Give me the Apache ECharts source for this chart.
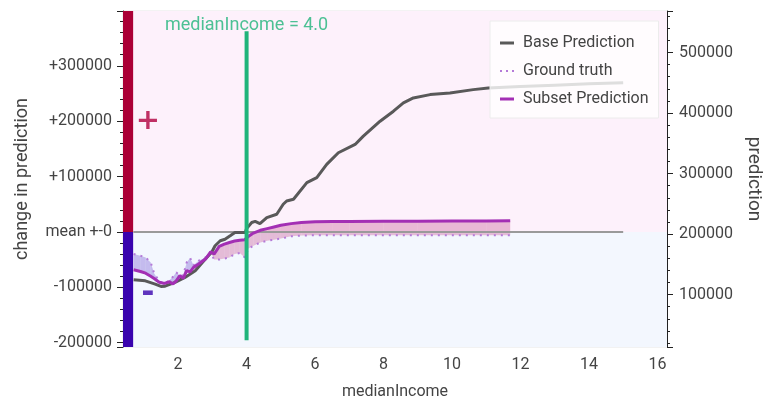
<!DOCTYPE html>
<html><head><meta charset="utf-8">
<script src="https://cdn.jsdelivr.net/npm/echarts@6/dist/echarts.min.js"></script>
<style>html,body{margin:0;padding:0;background:#fff}#c{width:777px;height:405px}</style>
</head><body><div id="c"></div>
<script>
// ---- data ----
const baseX = [0.70, 1.04, 1.33, 1.50, 1.62, 1.91, 2.20, 2.50, 2.79, 2.98, 3.08, 3.23, 3.37, 3.52, 3.66, 3.96, 4.00, 4.15, 4.25, 4.39, 4.59, 4.88, 5.07, 5.17, 5.37, 5.76, 6.05, 6.34, 6.68, 7.17, 7.41, 7.90, 8.29, 8.58, 8.87, 9.36, 9.94, 10.62, 11.06, 12.0, 13.0, 14.0, 15.0];
const baseY = [-86500, -88300, -94200, -98400, -98000, -91200, -82200, -70200, -49200, -36600, -25000, -16000, -13200, -7000, -1000, -1000, 6000, 17000, 19000, 15000, 25900, 32000, 50000, 55900, 59000, 89000, 98000, 122000, 143000, 158000, 173000, 200000, 218000, 233000, 242000, 248000, 251000, 257000, 260000, 262500, 265000, 267500, 269500];
const subsetX = [0.70, 0.9, 1.05, 1.2, 1.3, 1.45, 1.6, 1.75, 1.85, 1.95, 2.05, 2.15, 2.25, 2.35, 2.45, 2.6, 2.8, 2.95, 3.05, 3.2, 3.35, 3.5, 3.65, 3.8, 3.95, 4.05, 4.2, 4.4, 4.6, 4.8, 5.0, 5.3, 5.6, 6.0, 6.5, 7.0, 8.0, 9.0, 10.0, 11.0, 11.7];
const subsetY = [-68400, -71500, -74500, -80000, -84000, -91000, -93000, -90000, -94000, -88000, -79000, -84000, -70000, -72000, -64000, -58000, -49000, -36000, -40000, -26000, -22000, -19000, -16500, -15000, -14000, -8000, -2000, 3000, 6000, 9000, 12000, 15000, 17000, 18500, 18800, 19000, 19200, 19400, 19600, 19800, 20000];
const truthY = [-40000, -43000, -46000, -55000, -75000, -89000, -94000, -87000, -81000, -73000, -80000, -78000, -55000, -47000, -60000, -52000, -46000, -36000, -50000, -50000, -48000, -46000, -40000, -38000, -46000, -30000, -25000, -19000, -16000, -14000, -12000, -8000, -6500, -6000, -6000, -6000, -6000, -6000, -6000, -6000, -6000];
const meanX = [0.69, 15.0];
const meanY = [0, 0];
const markerX = 4.0;
const markerYRange = [-195500, 362300];
const markerText = 'medianIncome = 4.0';
const seriesNames = ['Base Prediction', 'Ground truth', 'Subset Prediction'];

// ---- axis extents ----
const X_MIN = 0.39, X_MAX = 16.28, STRIP_END = 0.686;
const Y_MIN = -207800, Y_MAX = 399000;
const R_MIN = 13400, R_MAX = 568600;

const zip = (xs, ys) => xs.map((x, i) => [x, ys[i]]);
// one item per segment between consecutive points: [x0, s0, t0, x1, s1, t1]
const bandSegs = subsetX.slice(0, -1).map((x, i) => [x, subsetY[i], truthY[i], subsetX[i + 1], subsetY[i + 1], truthY[i + 1]]);

const PINK = 'rgba(214,128,176,0.5)';
const LAV = 'rgba(150,128,222,0.5)';
function bandItem(params, api) {
  const x0 = api.value(0), s0 = api.value(1), t0 = api.value(2);
  const x1 = api.value(3), s1 = api.value(4), t1 = api.value(5);
  const d0 = s0 - t0, d1 = s1 - t1;
  const poly = (pts, color) => ({type: 'polygon', shape: {points: pts.map(p => api.coord(p))}, style: {fill: color}, silent: true});
  const children = [];
  if (d0 * d1 < 0) {
    const f = d0 / (d0 - d1);
    const xm = x0 + f * (x1 - x0), ym = s0 + f * (s1 - s0);
    children.push(poly([[x0, s0], [xm, ym], [x0, t0]], d0 > 0 ? PINK : LAV));
    children.push(poly([[xm, ym], [x1, s1], [x1, t1]], d1 > 0 ? PINK : LAV));
  } else {
    children.push(poly([[x0, s0], [x1, s1], [x1, t1], [x0, t0]], (d0 + d1) >= 0 ? PINK : LAV));
  }
  return {type: 'group', children};
}

const FONT = 'Roboto';
const TXT = '#444';
const DOTS = 'path://M0,0h2v2h-2z M6,0h2v2h-2z M12,0h2v2h-2z';

const chart = echarts.init(document.getElementById('c'));
chart.setOption({
  animation: false,
  textStyle: {fontFamily: FONT},
  grid: {left: 123, right: 110, top: 11, bottom: 57, show: true, borderColor: '#e6e6e6', borderWidth: 1},
  legend: {
    data: [
      {name: seriesNames[0], icon: 'rect'},
      {name: seriesNames[1], icon: DOTS},
      {name: seriesNames[2], icon: 'rect'}
    ],
    orient: 'vertical', left: 490, top: 21,
    padding: [14, 10, 11, 10], itemGap: 12, itemWidth: 14, itemHeight: 3,
    backgroundColor: 'rgba(255,255,255,0.8)', borderColor: '#ececec', borderWidth: 1,
    textStyle: {fontSize: 16, color: TXT, fontFamily: FONT, padding: [0, 0, 0, 4]}
  },
  xAxis: {
    type: 'value', min: X_MIN, max: X_MAX, splitNumber: 8,
    name: 'medianIncome', nameLocation: 'middle', nameGap: 37,
    nameTextStyle: {fontSize: 16, color: TXT, fontFamily: FONT},
    axisLine: {lineStyle: {color: '#222', width: 1}},
    axisTick: {show: true, length: 6, lineStyle: {color: '#222'}},
    minorTick: {show: true, splitNumber: 5, length: 3, lineStyle: {color: '#222'}},
    splitLine: {show: false},
    axisLabel: {fontSize: 16, color: TXT, margin: 10, fontFamily: FONT,
      formatter: v => (Math.abs(v - Math.round(v)) < 1e-6 && Math.round(v) % 2 === 0) ? String(Math.round(v)) : ''}
  },
  yAxis: [{
    type: 'value', min: Y_MIN, max: Y_MAX, splitNumber: 6, position: 'left',
    name: 'change in prediction', nameLocation: 'middle', nameGap: 92,
    nameTextStyle: {fontSize: 18, color: TXT, fontFamily: FONT},
    axisLine: {show: true, lineStyle: {color: '#222'}},
    axisTick: {show: true, length: 6, lineStyle: {color: '#222'}},
    minorTick: {show: true, splitNumber: 5, length: 3, lineStyle: {color: '#222'}},
    splitLine: {show: false},
    axisLabel: {fontSize: 16, color: TXT, margin: 11, fontFamily: FONT,
      formatter: v => {
        if (Math.abs(v % 100000) > 1) return '';
        if (Math.abs(v) < 1) return 'mean +-0';
        return v > 0 ? '+' + v : String(v);
      }}
  }, {
    type: 'value', min: R_MIN, max: R_MAX, splitNumber: 5, position: 'right',
    name: 'prediction', nameLocation: 'middle', nameGap: 77, nameRotate: -90,
    nameTextStyle: {fontSize: 19, color: TXT, fontFamily: FONT},
    axisLine: {show: true, lineStyle: {color: '#222'}},
    axisTick: {show: true, length: 6, lineStyle: {color: '#222'}},
    minorTick: {show: true, splitNumber: 5, length: 3, lineStyle: {color: '#222'}},
    splitLine: {show: false},
    axisLabel: {fontSize: 16, color: TXT, margin: 12, fontFamily: FONT,
      formatter: v => (Math.abs(v % 100000) < 1 ? String(v) : '')}
  }],
  series: [
    {
      type: 'line', name: 'bg', data: [], z: 0, silent: true,
      markArea: {silent: true, data: [
        [{xAxis: X_MIN, yAxis: 0, itemStyle: {color: '#fdf1fb'}}, {xAxis: X_MAX, yAxis: Y_MAX}],
        [{xAxis: X_MIN, yAxis: Y_MIN, itemStyle: {color: '#f3f7fe'}}, {xAxis: X_MAX, yAxis: 0}],
        [{xAxis: X_MIN, yAxis: 0, itemStyle: {color: '#ab0036'}}, {xAxis: STRIP_END, yAxis: Y_MAX}],
        [{xAxis: X_MIN, yAxis: Y_MIN, itemStyle: {color: '#3a03ae'}}, {xAxis: STRIP_END, yAxis: 0}]
      ]}
    },
    {
      type: 'custom', name: 'band', data: bandSegs, renderItem: bandItem, z: 1, silent: true,
      encode: {x: [0, 3], y: [1, 2, 4, 5]}
    },
    {
      type: 'line', name: 'mean', data: zip(meanX, meanY), symbol: 'none', silent: true, z: 2,
      lineStyle: {color: '#9a9a9a', width: 2}
    },
    {
      type: 'line', name: seriesNames[0], data: zip(baseX, baseY), symbol: 'none', z: 3,
      lineStyle: {color: '#595959', width: 3}, itemStyle: {color: '#595959'}
    },
    {
      type: 'line', name: seriesNames[1], data: zip(subsetX, truthY), symbol: 'none', z: 3,
      lineStyle: {color: '#b47ad8', width: 2, type: [2, 5]}, itemStyle: {color: '#b47ad8'}
    },
    {
      type: 'line', name: seriesNames[2], data: zip(subsetX, subsetY), symbol: 'none', z: 4,
      lineStyle: {color: '#a32fb4', width: 3}, itemStyle: {color: '#a32fb4'}
    },
    {
      type: 'line', name: 'marker', data: markerYRange.map(y => [markerX, y]), symbol: 'none', z: 5, silent: true,
      lineStyle: {color: '#1fb47a', width: 4}
    },
    {
      type: 'scatter', name: 'markerLabel', data: [[markerX, markerYRange[1]]], symbolSize: 1, z: 6, silent: true,
      itemStyle: {color: 'rgba(0,0,0,0)'},
      label: {show: true, position: 'top', distance: -4, formatter: markerText, fontSize: 18, color: '#1fb47a', fontFamily: FONT}
    },
    {
      type: 'scatter', name: 'signs', symbolSize: 1, z: 6, silent: true,
      itemStyle: {color: 'rgba(0,0,0,0)'},
      data: [
        {value: [1.12, 199000], label: {formatter: '+', color: '#b0003e', fontSize: 29, fontWeight: 'bold'}},
        {value: [1.12, -112000], label: {formatter: '-', color: '#3a03ae', fontSize: 32, fontWeight: 'bold'}}
      ],
      label: {show: true, position: 'inside', fontFamily: 'DejaVu Sans'}
    }
  ]
});
</script></body></html>
